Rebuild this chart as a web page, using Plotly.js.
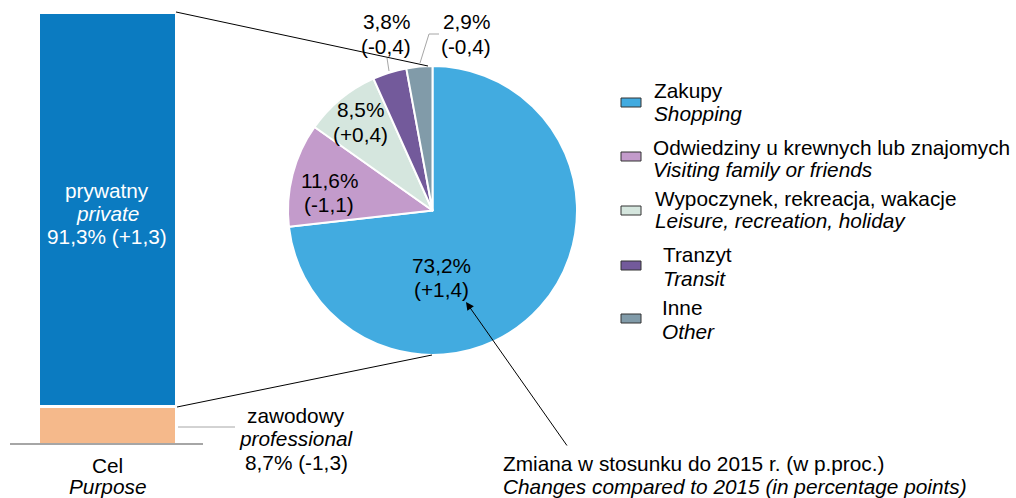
<!DOCTYPE html>
<html>
<head>
<meta charset="utf-8">
<script src="https://cdn.plot.ly/plotly-3.0.1.min.js"></script>
<style>html,body{margin:0;padding:0;background:#fff;}#chart{width:1016px;height:498px;}</style>
</head>
<body>
<div id="chart"></div>
<script>
// ---- data ----
const purposePl = ['prywatny', 'zawodowy'];
const purposeEn = ['private', 'professional'];
const purposeVals = [91.3, 8.7];
const purposeChg = [1.3, -1.3];
const purposeColors = ['#0b7bc1', '#f5b98b'];
const axisLabelPl = 'Cel';
const axisLabelEn = 'Purpose';

const piePl = ['Zakupy', 'Odwiedziny u krewnych lub znajomych', 'Wypoczynek, rekreacja, wakacje', 'Tranzyt', 'Inne'];
const pieEn = ['Shopping', 'Visiting family or friends', 'Leisure, recreation, holiday', 'Transit', 'Other'];
const pieVals = [73.2, 11.6, 8.5, 3.8, 2.9];
const pieChg = [1.4, -1.1, 0.4, -0.4, -0.4];
const pieColors = ['#42abe0', '#c39bcb', '#d5e6de', '#735a9b', '#819ba9'];

const notePl = 'Zmiana w stosunku do 2015 r. (w p.proc.)';
const noteEn = 'Changes compared to 2015 (in percentage points)';

// ---- helpers ----
const W = 1016, H = 498;
const px = x => x / W;
const py = y => 1 - y / H;
const fmt = v => v.toFixed(1).replace('.', ',');
const fmtChg = v => '(' + (v >= 0 ? '+' : '-') + fmt(Math.abs(v)) + ')';
const FONT = 'Liberation Sans, Arial, sans-serif';
const FS = 20.8;

// ---- traces ----
const traces = [];
// stacked bar: professional at bottom, private on top
[1, 0].forEach(i => {
  traces.push({
    type: 'bar', x: [axisLabelPl], y: [purposeVals[i]], width: [1],
    marker: { color: purposeColors[i], line: { color: '#ffffff', width: 3 } },
    xaxis: 'x', yaxis: 'y', showlegend: false, hoverinfo: 'none'
  });
});
traces.push({
  type: 'pie', values: pieVals, labels: piePl, sort: false, direction: 'clockwise', rotation: 0,
  marker: { colors: pieColors, line: { color: '#ffffff', width: 2 } },
  textinfo: 'none', hoverinfo: 'none', showlegend: false,
  domain: { x: [px(287), px(578)], y: [py(355), py(66)] }
});

// ---- annotations (one per text line) ----
const ann = [];
const txt = (x, y, text, opts) => ann.push(Object.assign({
  xref: 'paper', yref: 'paper', x: px(x), y: py(y), text: text, showarrow: false,
  xanchor: 'center', yanchor: 'middle', font: { family: FONT, size: FS, color: '#000' }
}, opts || {}));
const white = { font: { family: FONT, size: FS, color: '#ffffff' } };

// bar segment labels
txt(107, 190, purposePl[0], white);
txt(107, 213, '<i>' + purposeEn[0] + '</i>', white);
txt(107, 236, fmt(purposeVals[0]) + '% ' + fmtChg(purposeChg[0]), white);
txt(296, 415, purposePl[1]);
txt(296, 438, '<i>' + purposeEn[1] + '</i>');
txt(296, 462, fmt(purposeVals[1]) + '% ' + fmtChg(purposeChg[1]));
txt(107, 465, axisLabelPl);
txt(107, 486, '<i>' + axisLabelEn + '</i>');

// pie labels
const pieLblPos = [[441, 265], [329, 180], [360, 110], [386, 22], [466, 22]];
pieVals.forEach((v, i) => {
  txt(pieLblPos[i][0], pieLblPos[i][1], fmt(v) + '%');
  txt(pieLblPos[i][0], pieLblPos[i][1] + 24, fmtChg(pieChg[i]));
});

// legend
const legBox = [102, 156, 210, 265, 318];
const legY1 = [90, 147, 198, 254, 307];
const legY2 = [114, 169, 221, 278, 331];
const legX = [652, 651, 653, 661, 660];
const shapes = [];
piePl.forEach((name, i) => {
  txt(legX[i], legY1[i], name, { xanchor: 'left' });
  txt(legX[i], legY2[i], '<i>' + pieEn[i] + '</i>', { xanchor: 'left' });
  shapes.push({ type: 'rect', xref: 'paper', yref: 'paper', x0: px(621), x1: px(641), y0: py(legBox[i] + 5), y1: py(legBox[i] - 4),
    fillcolor: pieColors[i], line: { color: '#333333', width: 1 } });
});

// note
txt(501, 463, notePl, { xanchor: 'left' });
txt(501, 486, '<i>' + noteEn + '</i>', { xanchor: 'left' });

// arrow
ann.push({ xref: 'paper', yref: 'paper', x: px(466), y: py(302), ax: 102, ay: 145, axref: 'pixel', ayref: 'pixel',
  text: '', showarrow: true, arrowhead: 2, arrowsize: 1.6, arrowwidth: 1, arrowcolor: '#000' });

// connector lines
const line = (x0, y0, x1, y1, color, width) => shapes.push({ type: 'line', xref: 'paper', yref: 'paper',
  x0: px(x0), y0: py(y0), x1: px(x1), y1: py(y1), line: { color: color, width: width } });
line(176, 12, 428, 66, '#000', 1);
line(177, 407, 432, 355, '#000', 1);
line(10, 444, 203, 444, '#a6a6a6', 2);
line(178, 427, 235, 427, '#a6a6a6', 1);
line(387, 58, 389, 71, '#a6a6a6', 1);
shapes.push({ type: 'path', xref: 'paper', yref: 'paper',
  path: 'M ' + px(439) + ',' + py(34) + ' L ' + px(429) + ',' + py(34) + ' L ' + px(420) + ',' + py(63),
  line: { color: '#a6a6a6', width: 1 } });

const layout = {
  width: W, height: H, margin: { l: 0, r: 0, t: 0, b: 0 },
  paper_bgcolor: '#ffffff', plot_bgcolor: 'rgba(0,0,0,0)',
  barmode: 'stack', showlegend: false,
  xaxis: { domain: [px(38), px(176)], range: [-0.5, 0.5], visible: false, fixedrange: true, type: 'category' },
  yaxis: { domain: [py(444), py(12)], range: [0, 100], visible: false, fixedrange: true },
  annotations: ann, shapes: shapes,
  font: { family: FONT, size: FS }
};

Plotly.newPlot('chart', traces, layout, { staticPlot: true });
</script>
</body>
</html>
